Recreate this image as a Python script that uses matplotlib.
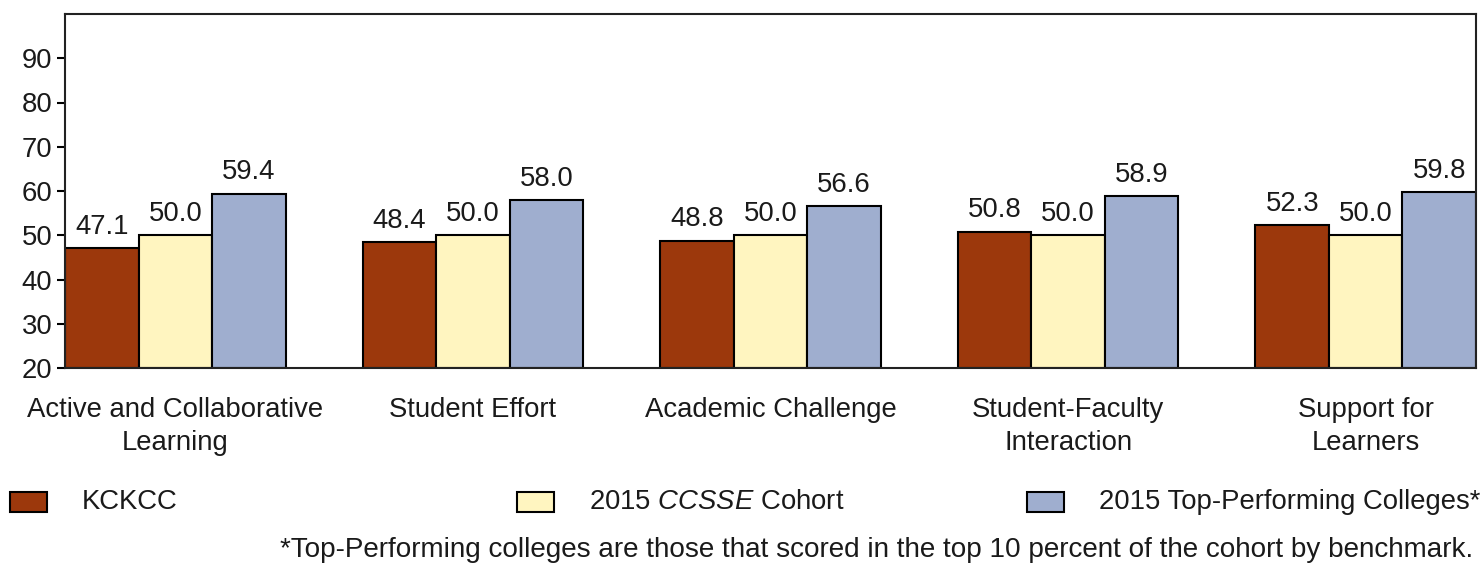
import matplotlib.pyplot as plt
import numpy as np
from matplotlib.patches import Rectangle

plt.rcParams['font.family'] = ['Liberation Sans', 'DejaVu Sans']
plt.rcParams['mathtext.fontset'] = 'custom'
plt.rcParams['mathtext.it'] = 'Liberation Sans:italic'
plt.rcParams['mathtext.rm'] = 'Liberation Sans'

categories = ["Active and Collaborative\nLearning", "Student Effort",
              "Academic Challenge", "Student-Faculty\nInteraction",
              "Support for\nLearners"]
series_names = ["KCKCC", "2015 $\\it{CCSSE}$ Cohort", "2015 Top-Performing Colleges*"]
kckcc = [47.1, 48.4, 48.8, 50.8, 52.3]
cohort = [50.0, 50.0, 50.0, 50.0, 50.0]
top_colleges = [59.4, 58.0, 56.6, 58.9, 59.8]
yticks = [20, 30, 40, 50, 60, 70, 80, 90]

colors = ["#9c380c", "#fff5c0", "#9faecf"]
text_col = "#1a1a1a"
fs = 19.8

fig = plt.figure(figsize=(14.81, 5.64), dpi=100)
ax = fig.add_axes([65 / 1481, 196 / 564, 1411 / 1481, 354 / 564])

x = np.arange(len(categories))
w = 0.247
for i, vals in enumerate([kckcc, cohort, top_colleges]):
    bars = ax.bar(x + (i - 1) * w, np.array(vals) - 20, w, bottom=20,
                  color=colors[i], edgecolor="black", linewidth=1.5)
    ax.bar_label(bars, labels=[f"{v:.1f}" for v in vals], padding=6,
                 fontsize=fs, color=text_col)

ax.set_xlim(-1.5 * w, len(categories) - 1 + 1.5 * w)
ax.set_ylim(20, 100)
ax.set_yticks(yticks)
ax.set_yticklabels([str(t) for t in yticks], fontsize=fs, color=text_col)
ax.set_xticks(x)
ax.set_xticklabels(categories, fontsize=fs, color=text_col, linespacing=1.35)
ax.tick_params(axis="x", length=0, pad=21)
ax.tick_params(axis="y", length=6, width=1.5, pad=3)
for s in ax.spines.values():
    s.set_linewidth(1.5)
    s.set_color("#222222")

# legend drawn across the bottom
leg_x = [10, 517, 1027]
for i, name in enumerate(series_names):
    fig.patches.append(Rectangle((leg_x[i] / 1481, 1 - 512 / 564), 37 / 1481, 20 / 564,
                                 transform=fig.transFigure, facecolor=colors[i],
                                 edgecolor="black", linewidth=1.5))
    fig.text((leg_x[i] + 72) / 1481, 1 - 502 / 564, name, fontsize=fs,
             color=text_col, va="center", ha="left")

fig.text(1473 / 1481, 1 - 563 / 564,
         "*Top-Performing colleges are those that scored in the top 10 percent of the cohort by benchmark.",
         fontsize=20.1, color=text_col, ha="right", va="bottom")

fig.savefig("out.png", dpi=100)
